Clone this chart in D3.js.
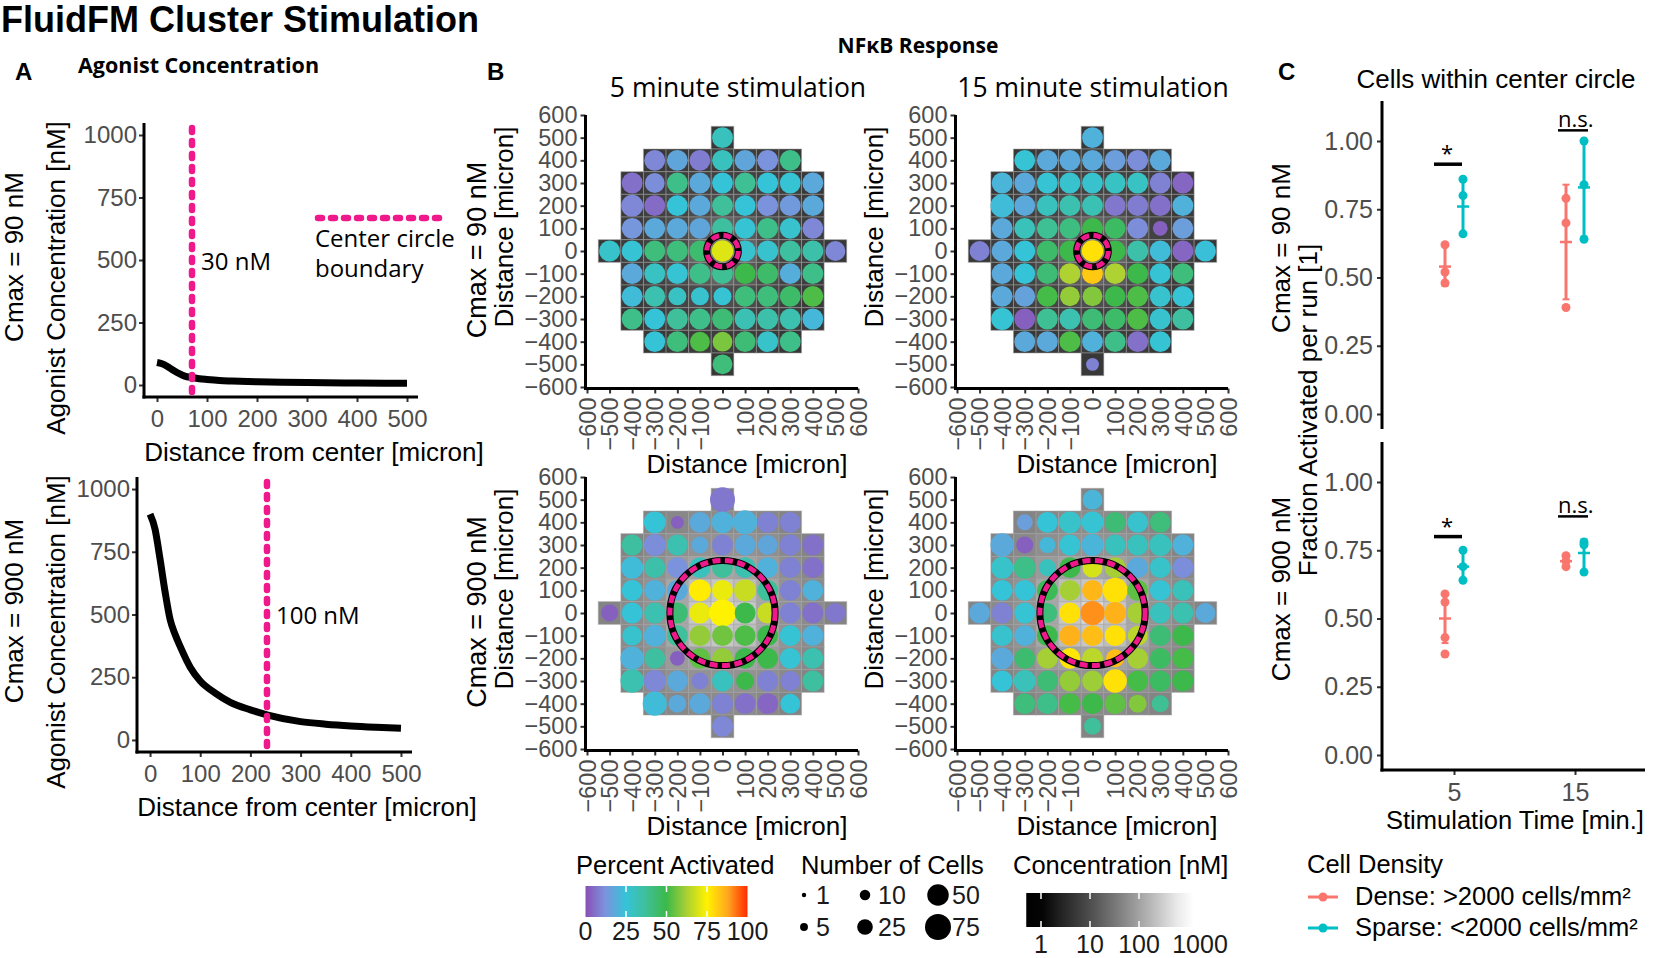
<!DOCTYPE html>
<html>
<head>
<meta charset="utf-8">
<script src="https://cdn.jsdelivr.net/npm/d3@7"></script>
<style>
  body { margin: 0; background: #fff; }
</style>
</head>
<body>
<svg id="fig" width="1654" height="958"></svg>
<script>
// ---------------- data: panel A (agonist concentration profiles) ----------------
const distA90 = [0, 10, 20, 30, 40, 50, 60, 70, 85, 100, 125, 150, 200, 250, 300, 400, 500];
const concA90 = [90, 85, 75, 62, 50, 40, 33, 30, 25, 22, 18, 16, 13, 11, 10, 8, 7];
const distA900 = [0, 10, 20, 30, 40, 50, 60, 80, 100, 130, 160, 200, 233, 300, 350, 400, 450, 500];
const concA900 = [900, 840, 720, 590, 480, 420, 373, 290, 235, 187, 150, 120, 100, 73, 63, 56, 51, 47];
const boundaryDist = [70, 233];
const boundaryLabel = ["30 nM", "100 nM"];
const concTicks = [0, 250, 500, 750, 1000];
const distTicks = [0, 100, 200, 300, 400, 500];

// ---------------- data: panel B (tiles, rows from y=500 down to y=-500) ----------------
const rowY = [500, 400, 300, 200, 100, 0, -100, -200, -300, -400, -500];
const gridTicks = [-600, -500, -400, -300, -200, -100, 0, 100, 200, 300, 400, 500, 600];

// percent activated
const pct5_90 = [
  [30],
  [10, 17, 8, 30, 17, 12, 40],
  [6, 11, 40, 18, 25, 38, 25, 26, 18],
  [10, 5, 25, 18, 37, 25, 12, 14, 18],
  [13, 18, 18, 17, 36, 26, 40, 27, 10],
  [28, 26, 42, 42, 44, 70, 27, 27, 36, 34, 10],
  [18, 29, 26, 40, 38, 50, 45, 19, 40],
  [23, 33, 29, 27, 26, 42, 42, 45, 52],
  [40, 25, 37, 40, 43, 32, 34, 33, 22],
  [25, 42, 52, 57, 43, 28, 40],
  [42]
];
const pct15_90 = [
  [20],
  [26, 18, 18, 18, 15, 11, 18],
  [21, 18, 26, 27, 27, 29, 29, 9, 4],
  [23, 18, 30, 33, 32, 7, 8, 6, 20],
  [18, 31, 38, 41, 50, 46, 11, 3, 15],
  [9, 18, 25, 45, 50, 78, 50, 34, 23, 4, 24],
  [18, 25, 43, 63, 82, 63, 50, 26, 42],
  [18, 16, 51, 60, 58, 50, 52, 27, 26],
  [26, 3, 38, 33, 43, 45, 52, 27, 36],
  [18, 18, 52, 20, 40, 6, 26],
  [9]
];
const pct5_900 = [
  [7],
  [25, 3, 18, 20, 20, 9, 9],
  [36, 11, 33, 18, 9, 18, 17, 9, 6],
  [23, 34, 12, 30, 37, 33, 20, 9, 6],
  [25, 20, 18, 76, 72, 67, 37, 9, 20],
  [3, 25, 33, 43, 72, 75, 50, 67, 9, 6, 7],
  [27, 20, 37, 60, 56, 52, 50, 26, 20],
  [20, 36, 3, 54, 60, 50, 50, 26, 33],
  [33, 10, 18, 9, 30, 50, 9, 9, 36],
  [23, 18, 18, 9, 6, 4, 25],
  [10]
];
const pct15_900 = [
  [21],
  [15, 25, 28, 26, 43, 27, 42],
  [18, 3, 22, 26, 21, 30, 30, 30, 20],
  [28, 40, 30, 50, 69, 62, 18, 28, 11],
  [25, 25, 48, 62, 85, 78, 54, 26, 31],
  [18, 9, 26, 42, 78, 90, 86, 62, 30, 33, 18],
  [27, 20, 50, 86, 84, 78, 65, 43, 50],
  [18, 44, 62, 77, 65, 84, 62, 46, 51],
  [25, 31, 43, 60, 61, 78, 51, 46, 50],
  [42, 40, 51, 50, 54, 58, 38],
  [37]
];

// number of cells per tile
const n5_90 = [
  [47],
  [47, 47, 47, 47, 47, 47, 47],
  [47, 42, 47, 47, 47, 47, 47, 47, 47],
  [52, 47, 47, 47, 47, 47, 47, 47, 47],
  [47, 47, 47, 47, 47, 47, 47, 47, 47],
  [47, 47, 47, 47, 47, 50, 47, 47, 47, 47, 42],
  [47, 47, 47, 47, 47, 47, 47, 47, 47],
  [47, 47, 34, 34, 34, 47, 47, 47, 47],
  [47, 47, 47, 47, 47, 47, 47, 47, 47],
  [47, 47, 42, 42, 47, 47, 47],
  [42]
];
const n15_90 = [
  [47],
  [47, 47, 47, 47, 47, 47, 47],
  [47, 47, 47, 47, 47, 47, 47, 47, 47],
  [60, 47, 47, 47, 47, 47, 47, 47, 47],
  [47, 47, 47, 47, 47, 47, 47, 22, 47],
  [42, 47, 47, 47, 47, 50, 47, 47, 47, 47, 47],
  [47, 47, 47, 47, 47, 47, 47, 47, 47],
  [47, 47, 47, 42, 42, 47, 47, 47, 47],
  [52, 47, 47, 47, 47, 47, 47, 47, 47],
  [47, 47, 47, 47, 47, 47, 47],
  [16]
];
const n5_900 = [
  [69],
  [52, 16, 47, 52, 64, 47, 47],
  [47, 52, 47, 30, 47, 47, 42, 47, 47],
  [52, 47, 47, 47, 47, 47, 47, 47, 47],
  [47, 47, 47, 52, 47, 52, 47, 47, 47],
  [30, 47, 47, 47, 47, 80, 47, 47, 47, 47, 42],
  [42, 52, 47, 47, 47, 47, 47, 47, 47],
  [60, 47, 22, 47, 47, 47, 47, 47, 47],
  [60, 52, 47, 30, 47, 34, 47, 42, 47],
  [64, 34, 47, 47, 47, 47, 42],
  [47]
];
const n15_900 = [
  [42],
  [26, 47, 52, 52, 47, 47, 47],
  [60, 30, 26, 47, 52, 47, 47, 52, 47],
  [52, 52, 30, 47, 42, 47, 47, 47, 47],
  [47, 47, 47, 47, 47, 69, 47, 47, 47],
  [47, 47, 47, 42, 47, 64, 52, 47, 47, 47, 42],
  [47, 47, 47, 47, 47, 47, 42, 47, 47],
  [52, 47, 47, 47, 47, 34, 47, 47, 47],
  [47, 52, 47, 47, 47, 60, 47, 47, 47],
  [47, 47, 47, 47, 47, 34, 30],
  [30]
];

// tile concentration [nM]
const conc90 = [
  [5],
  [5, 5.5, 6, 6, 6, 5.5, 5],
  [5, 6, 6.5, 7, 7, 7, 6.5, 6, 5],
  [5.5, 6.5, 7.5, 9, 10, 9, 7.5, 6.5, 5.5],
  [6, 7, 9, 14, 18, 14, 9, 7, 6],
  [5, 6, 7, 10, 18, 30, 18, 10, 7, 6, 5],
  [6, 7, 9, 14, 18, 14, 9, 7, 6],
  [5.5, 6.5, 7.5, 9, 10, 9, 7.5, 6.5, 5.5],
  [5, 6, 6.5, 7, 7, 7, 6.5, 6, 5],
  [5, 5.5, 6, 6, 6, 5.5, 5],
  [5]
];
const conc900 = [
  [45],
  [45, 50, 55, 55, 55, 50, 45],
  [45, 52, 60, 65, 68, 65, 60, 52, 45],
  [50, 60, 80, 100, 110, 100, 80, 60, 50],
  [55, 65, 110, 200, 250, 200, 110, 65, 55],
  [45, 55, 68, 110, 250, 400, 250, 110, 68, 55, 45],
  [55, 65, 110, 200, 250, 200, 110, 65, 55],
  [50, 60, 80, 100, 110, 100, 80, 60, 50],
  [45, 52, 60, 65, 68, 65, 60, 52, 45],
  [45, 50, 55, 55, 55, 50, 45],
  [45]
];

// legends of panel B
const pctStops = [0, 12, 25, 37, 50, 62, 75, 88, 100];
const pctColors = ["#8a4fb5", "#7b93dc", "#35c3d8", "#3fbf9a", "#3cb94a", "#a6cf35", "#fff200", "#ffa51f", "#ff2a00"];
const pctTicks = [0, 25, 50, 75, 100];
const sizeKeys = [1, 5, 10, 25, 50, 75];
const concLegendTicks = [1, 10, 100, 1000];

// ---------------- data: panel C (fraction activated per run) ----------------
const stimTimes = ["5", "15"];
const densityNames = ["Dense", "Sparse"];
const densityLabels = ["Dense: >2000 cells/mm²", "Sparse: <2000 cells/mm²"];
const densityColors = ["#f8766d", "#00bfc4"];
const c90Dense5 = [0.62, 0.52, 0.48];
const c90Sparse5 = [0.86, 0.80, 0.66];
const c90Dense15 = [0.79, 0.70, 0.39];
const c90Sparse15 = [1.00, 0.84, 0.64];
const c900Dense5 = [0.59, 0.56, 0.43, 0.37];
const c900Sparse5 = [0.75, 0.69, 0.64];
const c900Dense15 = [0.73, 0.71, 0.69];
const c900Sparse15 = [0.78, 0.77, 0.67];
// order: Dense 5, Sparse 5, Dense 15, Sparse 15
const c90Mean = [0.54, 0.76, 0.63, 0.83];
const c90Low = [0.47, 0.66, 0.42, 0.65];
const c90High = [0.62, 0.86, 0.84, 1.00];
const c900Mean = [0.50, 0.69, 0.71, 0.74];
const c900Low = [0.41, 0.64, 0.69, 0.67];
const c900High = [0.59, 0.75, 0.73, 0.79];
const sigText = ["*", "n.s."];
const sig90Y = [0.915, 1.05];
const sig900Y = [0.80, 0.885];
const fracTicks = [0, 0.25, 0.5, 0.75, 1];

// ---------------- drawing ----------------
const svg = d3.select("#fig");
const SANS = '"Liberation Sans", Arial, sans-serif';
const OPEN = '"Open Sans", "Liberation Sans", sans-serif';
const MAGENTA = "#f0198c";

function txt(g, x, y, s, size, o = {}) {
  return g.append("text")
    .attr("x", x).attr("y", y)
    .attr("fill", o.fill || "#000")
    .attr("text-anchor", o.anchor || "start")
    .style("font-family", o.family || SANS)
    .style("font-size", size + "px")
    .style("font-weight", o.weight || 400)
    .text(s);
}
function vtxt(g, cx, cy, s, size, o = {}) {
  return txt(g, 0, 0, s, size, Object.assign({ anchor: "middle" }, o))
    .attr("dominant-baseline", "central")
    .attr("transform", `translate(${cx},${cy}) rotate(-90)`);
}
function seg(g, x1, y1, x2, y2, w, c) {
  return g.append("line").attr("x1", x1).attr("y1", y1).attr("x2", x2).attr("y2", y2)
    .attr("stroke", c || "#000").attr("stroke-width", w || 3);
}
function styleAxis(g, size) {
  g.select(".domain").remove();
  g.selectAll(".tick line").attr("stroke", "#333").attr("stroke-width", 2);
  g.selectAll(".tick text").attr("fill", "#4d4d4d")
    .style("font-family", SANS).style("font-size", (size || 24) + "px");
}

// titles
txt(svg, 1, 32, "FluidFM Cluster Stimulation", 36, { weight: 700 });
txt(svg, 15, 80, "A", 24, { weight: 700 });
txt(svg, 78, 73, "Agonist Concentration", 21.5, { weight: 700, family: OPEN });
txt(svg, 918, 53, "NFκB Response", 21, { weight: 700, family: OPEN, anchor: "middle" });
txt(svg, 487, 80, "B", 24, { weight: 700 });
txt(svg, 1278, 80, "C", 24, { weight: 700 });

// ---- panel A ----
function drawConcProfile(fr, dist, conc, bIdx, cmaxLabel) {
  const g = svg.append("g");
  const x = d3.scaleLinear().domain([-26, 522]).range([fr.left, fr.right]);
  const y = d3.scaleLinear().domain([-48, 1048]).range([fr.bottom, fr.top]);

  const gy = g.append("g").attr("transform", `translate(${fr.left},0)`)
    .call(d3.axisLeft(y).tickValues(concTicks).tickFormat(d3.format("d")).tickSize(5).tickPadding(2));
  styleAxis(gy, 24);
  const gx = g.append("g").attr("transform", `translate(0,${fr.bottom})`)
    .call(d3.axisBottom(x).tickValues(distTicks).tickFormat(d3.format("d")).tickSize(5).tickPadding(8));
  styleAxis(gx, 24);
  seg(g, fr.left, fr.top, fr.left, fr.bottom + 1.5, 3);
  seg(g, fr.left - 1.5, fr.bottom, fr.right, fr.bottom, 3);

  const pts = dist.map((d, i) => [d, conc[i]]);
  g.append("path").datum(pts)
    .attr("d", d3.line().x(d => x(d[0])).y(d => y(d[1])).curve(d3.curveMonotoneX))
    .attr("fill", "none").attr("stroke", "#000").attr("stroke-width", 7);

  const bx = x(boundaryDist[bIdx]);
  seg(g, bx, fr.top + 5, bx, fr.bottom, 6.5, MAGENTA)
    .attr("stroke-dasharray", "4 9").attr("stroke-linecap", "round");
  txt(g, bx + 9, y(500), boundaryLabel[bIdx], 24, { family: OPEN })
    .attr("dominant-baseline", "central");

  txt(g, fr.left + 170, fr.bottom + 64, "Distance from center [micron]", 26, { anchor: "middle" });
  vtxt(g, 14, fr.top + 134, cmaxLabel, 26);
  vtxt(g, 56, fr.top + 155, "Agonist Concentration [nM]", 26);
}
drawConcProfile({ left: 144, right: 418, top: 123, bottom: 397 }, distA90, concA90, 0, "Cmax = 90 nM");
drawConcProfile({ left: 137, right: 412, top: 477, bottom: 752 }, distA900, concA900, 1, "Cmax = 900 nM");

// legend of panel A
seg(svg, 318, 218, 443, 218, 6.5, MAGENTA).attr("stroke-dasharray", "4 9").attr("stroke-linecap", "round");
txt(svg, 315, 247, "Center circle", 24, { family: OPEN });
txt(svg, 315, 277, "boundary", 24, { family: OPEN });

// ---- panel B ----
const pctScale = d3.scaleLinear().domain(pctStops).range(pctColors).clamp(true);
const greyScale = d3.scaleSequentialLog(d3.interpolateLab("#000000", "#ffffff")).domain([1, 1000]).clamp(true);
const sizeScale = d3.scaleSqrt().domain([1, 75]).range([2.2, 13]);

function buildCells(pct, nCells, conc) {
  const out = [];
  rowY.forEach((yv, i) => {
    const n = pct[i].length;
    pct[i].forEach((p, j) => {
      out.push({ x: (j - (n - 1) / 2) * 100, y: yv, pct: p, n: nCells[i][j], conc: conc[i][j] });
    });
  });
  return out;
}

function drawHeat(fr, pct, nCells, conc, ringIdx, opts) {
  const g = svg.append("g");
  const x = d3.scaleLinear().domain([-600, 600]).range([fr.x0, fr.x0 + fr.w]);
  const y = d3.scaleLinear().domain([-600, 600]).range([fr.y0 + fr.h, fr.y0]);
  const cells = buildCells(pct, nCells, conc);
  const tw = x(50) - x(-50), th = y(-50) - y(50);

  g.selectAll("rect.tile").data(cells).join("rect").attr("class", "tile")
    .attr("x", d => x(d.x - 50)).attr("y", d => y(d.y + 50))
    .attr("width", tw).attr("height", th)
    .attr("fill", d => greyScale(d.conc))
    .attr("stroke", "#a0a0a0").attr("stroke-opacity", 0.5).attr("stroke-width", 1);

  g.selectAll("circle.cell").data(cells).join("circle").attr("class", "cell")
    .attr("cx", d => x(d.x)).attr("cy", d => y(d.y))
    .attr("r", d => sizeScale(d.n))
    .attr("fill", d => pctScale(d.pct));

  const rr = x(boundaryDist[ringIdx]) - x(0);
  g.append("circle").attr("cx", x(0)).attr("cy", y(0)).attr("r", rr)
    .attr("fill", "none").attr("stroke", "#000").attr("stroke-width", 7);
  g.append("circle").attr("cx", x(0)).attr("cy", y(0)).attr("r", rr)
    .attr("fill", "none").attr("stroke", MAGENTA).attr("stroke-width", 5)
    .attr("stroke-dasharray", "8 4.5");

  const gy = g.append("g").attr("transform", `translate(${fr.x0 - 1.5},0)`)
    .call(d3.axisLeft(y).tickValues(gridTicks).tickSize(5).tickPadding(3));
  styleAxis(gy, 23.5);
  const gx = g.append("g").attr("transform", `translate(0,${fr.y0 + fr.h + 1.5})`)
    .call(d3.axisBottom(x).tickValues(gridTicks).tickSize(5));
  styleAxis(gx, 23.5);
  gx.selectAll(".tick text")
    .attr("transform", "rotate(-90)").attr("text-anchor", "end")
    .attr("x", -9).attr("y", 0).attr("dy", "0.35em");
  seg(g, fr.x0 - 1.5, fr.y0, fr.x0 - 1.5, fr.y0 + fr.h + 3, 3);
  seg(g, fr.x0 - 3, fr.y0 + fr.h + 1.5, fr.x0 + fr.w, fr.y0 + fr.h + 1.5, 3);

  txt(g, fr.x0 + 160, fr.y0 + fr.h + 86, "Distance [micron]", 26, { anchor: "middle" });
  vtxt(g, fr.x0 - 83, fr.y0 + 112, "Distance [micron]", 26);
  if (opts.cmax) vtxt(g, fr.x0 - 110, fr.y0 + 135, opts.cmax, 27);
  if (opts.title) txt(g, opts.titleX, 97, opts.title, 26.5, { family: OPEN, anchor: "middle" });
}
drawHeat({ x0: 587, y0: 115, w: 271, h: 272 }, pct5_90, n5_90, conc90, 0,
  { cmax: "Cmax = 90 nM", title: "5 minute stimulation", titleX: 738 });
drawHeat({ x0: 957, y0: 115, w: 271, h: 272 }, pct15_90, n15_90, conc90, 0,
  { title: "15 minute stimulation", titleX: 1093 });
drawHeat({ x0: 587, y0: 477, w: 271, h: 272 }, pct5_900, n5_900, conc900, 1,
  { cmax: "Cmax = 900 nM" });
drawHeat({ x0: 957, y0: 477, w: 271, h: 272 }, pct15_900, n15_900, conc900, 1, {});

// legends of panel B
const defs = svg.append("defs");
const pctGrad = defs.append("linearGradient").attr("id", "pctGrad");
pctStops.forEach((s, i) => pctGrad.append("stop").attr("offset", s + "%").attr("stop-color", pctColors[i]));
const pctX = d3.scaleLinear().domain([0, 100]).range([585.5, 747.5]);
txt(svg, 576, 874, "Percent Activated", 25.5);
svg.append("rect").attr("x", pctX(0)).attr("y", 886).attr("width", pctX(100) - pctX(0)).attr("height", 31)
  .attr("fill", "url(#pctGrad)");
pctTicks.forEach(t => {
  if (t > 0 && t < 100) {
    seg(svg, pctX(t), 886, pctX(t), 892, 1.5, "#fff");
    seg(svg, pctX(t), 911, pctX(t), 917, 1.5, "#fff");
  }
  txt(svg, pctX(t), 940, String(t), 25, { anchor: "middle", fill: "#1a1a1a" });
});

txt(svg, 801, 874, "Number of Cells", 25.5);
const keyCol = [804, 804, 865, 865, 938, 938];
const keyRow = [895, 927, 895, 927, 895, 927];
const keyLabX = [816, 816, 878, 878, 952, 952];
sizeKeys.forEach((k, i) => {
  svg.append("circle").attr("cx", keyCol[i]).attr("cy", keyRow[i]).attr("r", sizeScale(k)).attr("fill", "#000");
  txt(svg, keyLabX[i], keyRow[i] + 9, String(k), 25, { fill: "#1a1a1a" });
});

txt(svg, 1013, 874, "Concentration [nM]", 25.5);
const concLX = d3.scaleLog().domain([1, 1000]).range([1041, 1188]);
const concGrad = defs.append("linearGradient").attr("id", "concGrad");
const barLo = 0.5, barHi = 1300;
[0, 0.1, 0.2, 0.3, 0.4, 0.5, 0.6, 0.7, 0.8, 0.9, 1].forEach(f => {
  const c = Math.exp(Math.log(barLo) + f * (Math.log(barHi) - Math.log(barLo)));
  concGrad.append("stop").attr("offset", f * 100 + "%").attr("stop-color", greyScale(c));
});
svg.append("rect").attr("x", concLX(barLo)).attr("y", 893).attr("width", concLX(barHi) - concLX(barLo)).attr("height", 34)
  .attr("fill", "url(#concGrad)");
concLegendTicks.forEach(t => {
  if (t < 1000) {
    seg(svg, concLX(t), 893, concLX(t), 899, 1.5, "#fff");
    seg(svg, concLX(t), 921, concLX(t), 927, 1.5, "#fff");
  }
  txt(svg, concLX(t) + (t === 1000 ? 12 : 0), 953, String(t), 25, { anchor: "middle", fill: "#1a1a1a" });
});

// ---- panel C ----
const xC = d3.scalePoint().domain(stimTimes).range([1454, 1575]);
const dodge = d3.scalePoint().domain(densityNames).range([-9, 9]);

function drawFrac(fr, groups, mean, low, high, sigY, cmaxLabel, withX) {
  const g = svg.append("g");
  const y = d3.scaleLinear().domain([0, 1]).range([fr.y0, fr.y1]);
  const gy = g.append("g").attr("transform", `translate(1382,0)`)
    .call(d3.axisLeft(y).tickValues(fracTicks).tickFormat(d3.format(".2f")).tickSize(5).tickPadding(4));
  styleAxis(gy, 25);
  seg(g, 1382, fr.top, 1382, fr.bottom + (withX ? 1.5 : 0), 3);
  if (withX) {
    const gx = g.append("g").attr("transform", `translate(0,${fr.bottom})`)
      .call(d3.axisBottom(xC).tickSize(5).tickPadding(8));
    styleAxis(gx, 25);
    seg(g, 1380.5, fr.bottom, 1645, fr.bottom, 3);
  }
  stimTimes.forEach((t, ti) => {
    densityNames.forEach((dn, di) => {
      const k = ti * 2 + di;
      const cx = xC(t) + dodge(dn);
      const col = densityColors[di];
      seg(g, cx, y(high[k]), cx, y(low[k]), 3, col);
      seg(g, cx - 3.5, y(high[k]), cx + 3.5, y(high[k]), 2, col);
      seg(g, cx - 3.5, y(low[k]), cx + 3.5, y(low[k]), 2, col);
      seg(g, cx - 6, y(mean[k]), cx + 6, y(mean[k]), 2.5, col);
      g.selectAll(null).data(groups[ti][di]).join("circle")
        .attr("cx", cx).attr("cy", v => y(v)).attr("r", 4.5).attr("fill", col);
    });
  });
  // significance marks
  const x5 = xC(stimTimes[0]), x15 = xC(stimTimes[1]);
  seg(g, x5 - 20, y(sigY[0]), x5 + 8, y(sigY[0]), 3.5);
  txt(g, x5 - 7, y(sigY[0]) - 3, sigText[0], 22, { family: OPEN, anchor: "middle" });
  txt(g, x15 - 17, y(sigY[1]), sigText[1], 22, { family: OPEN });
  seg(g, x15 - 17, y(sigY[1]) + 3, x15 + 13, y(sigY[1]) + 3, 2.5);
  vtxt(g, 1281, (fr.top + fr.bottom) / 2 - 17, cmaxLabel, 26);
}
drawFrac({ top: 101, bottom: 429, y0: 414, y1: 141 },
  [[c90Dense5, c90Sparse5], [c90Dense15, c90Sparse15]], c90Mean, c90Low, c90High, sig90Y, "Cmax = 90 nM", false);
drawFrac({ top: 442, bottom: 770, y0: 755, y1: 482 },
  [[c900Dense5, c900Sparse5], [c900Dense15, c900Sparse15]], c900Mean, c900Low, c900High, sig900Y, "Cmax = 900 nM", true);

txt(svg, 1496, 88, "Cells within center circle", 26, { anchor: "middle" });
vtxt(svg, 1308, 410, "Fraction Activated per run [1]", 26);
txt(svg, 1515, 829, "Stimulation Time [min.]", 25.5, { anchor: "middle" });

// legend of panel C
txt(svg, 1307, 873, "Cell Density", 25.5);
densityLabels.forEach((lab, i) => {
  const yy = 897 + i * 31;
  seg(svg, 1308, yy, 1338, yy, 3, densityColors[i]);
  svg.append("circle").attr("cx", 1323).attr("cy", yy).attr("r", 4.5).attr("fill", densityColors[i]);
  txt(svg, 1355, yy + 8, lab, 25.5);
});
</script>
</body>
</html>
